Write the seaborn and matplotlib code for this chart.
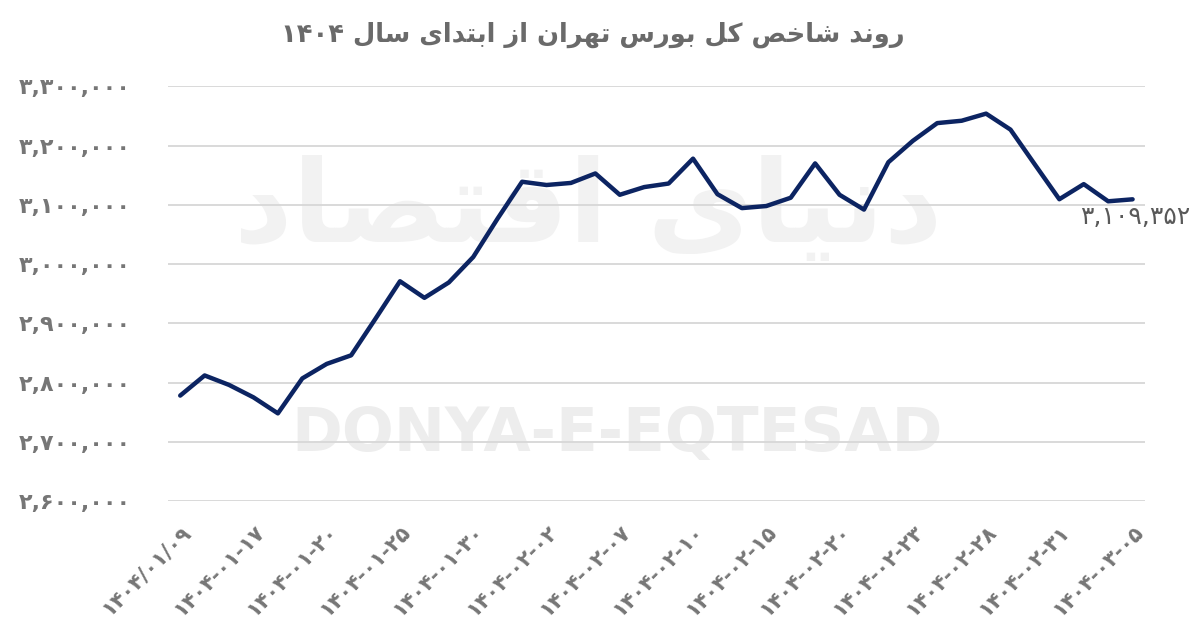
import re
import numpy as np
import seaborn as sns
import matplotlib.pyplot as plt
from matplotlib.ticker import FuncFormatter

# Chart data
title_text = "روند شاخص کل بورس تهران از ابتدای سال ۱۴۰۴"
x_labels = ["۱۴۰۴/۰۱/۰۹", "۱۴۰۴-۰۱-۱۷", "۱۴۰۴-۰۱-۲۰", "۱۴۰۴-۰۱-۲۵", "۱۴۰۴-۰۱-۳۰",
            "۱۴۰۴-۰۲-۰۲", "۱۴۰۴-۰۲-۰۷", "۱۴۰۴-۰۲-۱۰", "۱۴۰۴-۰۲-۱۵", "۱۴۰۴-۰۲-۲۰",
            "۱۴۰۴-۰۲-۲۳", "۱۴۰۴-۰۲-۲۸", "۱۴۰۴-۰۲-۳۱", "۱۴۰۴-۰۳-۰۵"]
index_values = [2778000, 2812000, 2796000, 2775000, 2748000, 2807000, 2831500, 2846000, 2908000, 2971000,
                2943000, 2969000, 3012000, 3077000, 3139000, 3133500, 3137000, 3153000, 3117000, 3130000,
                3136000, 3178000, 3118000, 3094500, 3098000, 3112000, 3170000, 3117000, 3092000, 3172000,
                3208000, 3238000, 3242000, 3254000, 3227000, 3168000, 3109500, 3135000, 3106000, 3109352]
y_ticks = [2600000, 2700000, 2800000, 2900000, 3000000, 3100000, 3200000, 3300000]
watermark_en = "DONYA-E-EQTESAD"
watermark_fa = "دنیای اقتصاد"

FA_DIGITS = str.maketrans("0123456789", "۰۱۲۳۴۵۶۷۸۹")

######################## Persian shaping #########################
# matplotlib has no bidi/shaping, so pick presentation forms by hand
# (isolated, final, initial, medial); None = letter does not join forward
FORMS = {
    "ا": ("\uFE8D", "\uFE8E", None, None),
    "ب": ("\uFE8F", "\uFE90", "\uFE91", "\uFE92"),
    "ت": ("\uFE95", "\uFE96", "\uFE97", "\uFE98"),
    "خ": ("\uFEA5", "\uFEA6", "\uFEA7", "\uFEA8"),
    "د": ("\uFEA9", "\uFEAA", None, None),
    "ر": ("\uFEAD", "\uFEAE", None, None),
    "ز": ("\uFEAF", "\uFEB0", None, None),
    "س": ("\uFEB1", "\uFEB2", "\uFEB3", "\uFEB4"),
    "ش": ("\uFEB5", "\uFEB6", "\uFEB7", "\uFEB8"),
    "ص": ("\uFEB9", "\uFEBA", "\uFEBB", "\uFEBC"),
    "ق": ("\uFED5", "\uFED6", "\uFED7", "\uFED8"),
    "ک": ("\uFB8E", "\uFB8F", "\uFB90", "\uFB91"),
    "ل": ("\uFEDD", "\uFEDE", "\uFEDF", "\uFEE0"),
    "ن": ("\uFEE5", "\uFEE6", "\uFEE7", "\uFEE8"),
    "ه": ("\uFEE9", "\uFEEA", "\uFEEB", "\uFEEC"),
    "و": ("\uFEED", "\uFEEE", None, None),
    "ی": ("\uFBFC", "\uFBFD", "\uFBFE", "\uFBFF"),
}


def fa(text: str) -> str:
    chars = list(text)
    out = []
    for i, c in enumerate(chars):
        if c not in FORMS:
            out.append(c)
            continue
        prev = chars[i - 1] if i > 0 else None
        nxt = chars[i + 1] if i + 1 < len(chars) else None
        join_prev = prev in FORMS and FORMS[prev][2] is not None
        join_next = FORMS[c][2] is not None and nxt in FORMS
        if join_prev and join_next:
            out.append(FORMS[c][3])
        elif join_prev:
            out.append(FORMS[c][1])
        elif join_next:
            out.append(FORMS[c][2])
        else:
            out.append(FORMS[c][0])
    # visual order: reverse, but keep digit runs left-to-right
    vis = "".join(out)[::-1]
    return re.sub(r"[۰-۹0-9]+", lambda m: m.group(0)[::-1], vis)
##################################################################

sns.set_style("white")
plt.rcParams["font.family"] = ["DejaVu Sans"]

GRAY = "#767676"
NAVY = "#0c2462"

fig = plt.figure(figsize=(12, 6.38), dpi=100)
ax = fig.add_axes([0.14, 0.2147, 0.814, 0.6499])

x = np.arange(len(index_values))
sns.lineplot(x=x, y=index_values, ax=ax, color=NAVY, linewidth=3.2, zorder=3)

ax.set_xlim(-0.5, len(index_values) - 0.5)
ax.set_ylim(y_ticks[0], y_ticks[-1])
ax.set_yticks(y_ticks)
ax.yaxis.set_major_formatter(FuncFormatter(lambda v, p: f"{int(v):,}".translate(FA_DIGITS)))
ax.set_xticks(x[::3])
ax.set_xticklabels(x_labels, rotation=45, ha="right", va="top", rotation_mode="anchor")

ax.set_axisbelow(True)
ax.grid(axis="y", color="#d9d9d9", linewidth=1.4)
ax.grid(axis="x", visible=False)
sns.despine(ax=ax, left=True, bottom=True)
ax.tick_params(axis="y", length=0, pad=27, labelsize=16, labelcolor=GRAY)
ax.tick_params(axis="x", length=0, pad=15, labelsize=15, labelcolor=GRAY)
for lbl in ax.get_yticklabels() + ax.get_xticklabels():
    lbl.set_fontweight("bold")
ax.set_xlabel("")
ax.set_ylabel("")

# last value label
ax.annotate(f"{index_values[-1]:,}".translate(FA_DIGITS), xy=(x[-1], index_values[-1]),
            xytext=(2, -4), textcoords="offset points", ha="center", va="top",
            fontsize=18, color="#595959")

# watermarks
ax.text(0.46, 0.16, watermark_en, transform=ax.transAxes, ha="center", va="center",
        fontsize=44, fontweight="bold", color="#ededed", zorder=0)
ax.text(0.43, 0.70, fa(watermark_fa), transform=ax.transAxes, ha="center", va="center",
        fontsize=82, fontweight="bold", color="#f2f2f2", zorder=0)

fig.text(0.494, 0.945, fa(title_text), ha="center", va="center",
         fontsize=18.5, fontweight="bold", color="#6a6a6a")

plt.savefig("out.png", dpi=100)
